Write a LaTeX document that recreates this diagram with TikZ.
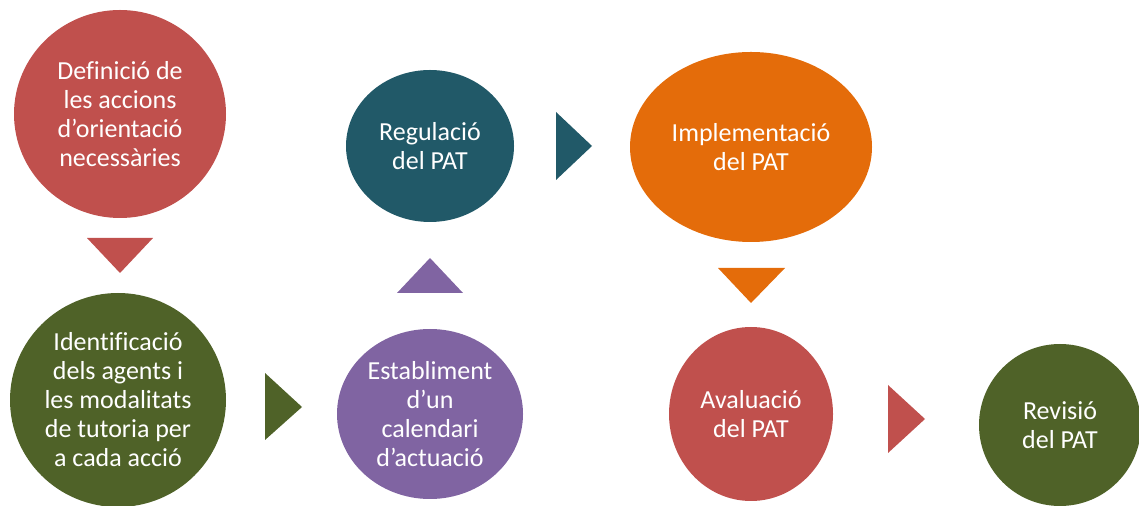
\documentclass[tikz,border=0pt]{standalone}
\usepackage{fontspec}
\setmainfont{Carlito}[Ligatures=CommonOff]
\usetikzlibrary{shapes.geometric}
\definecolor{pinkred}{HTML}{C0504D}
\definecolor{olive}{HTML}{4F6228}
\definecolor{lilac}{HTML}{8064A2}
\definecolor{petrol}{HTML}{215968}
\definecolor{carrot}{HTML}{E46C0A}
\begin{document}
\begin{tikzpicture}
    [%%%%%%%%%%%%%%%%%%%%%%%%%%%%%%
        x=0.5pt, y=-0.5pt,
        stage/.style={ellipse, inner sep=0pt, text=white, align=center,
                      font=\fontsize{13}{14.5}\selectfont},
    ]%%%%%%%%%%%%%%%%%%%%%%%%%%%%%%
\useasboundingbox (0,0) rectangle (1139,506);
\node[stage, fill=pinkred, minimum width=106pt, minimum height=104pt] (defin) at (120,114) {Definició de\\les accions\\d’orientació\\necessàries};
\node[stage, fill=olive, minimum width=108pt, minimum height=107pt] (ident) at (118,400) {Identificació\\dels agents i\\les modalitats\\de tutoria per\\a cada acció};
\node[stage, fill=lilac, minimum width=93pt, minimum height=85pt] (estab) at (430,414) {Establiment\\d’un\\calendari\\d’actuació};
\node[stage, fill=petrol, minimum width=84pt, minimum height=76pt] (regul) at (430,146) {Regulació\\del PAT};
\node[stage, fill=carrot, minimum width=121pt, minimum height=95pt] (implem) at (751,147) {Implementació\\del PAT};
\node[stage, fill=pinkred, minimum width=82pt, minimum height=87pt] (aval) at (751,414) {Avaluació\\del PAT};
\node[stage, fill=olive, minimum width=81pt, minimum height=81pt] (revis) at (1060,425) {Revisió\\del PAT};
\fill[pinkred] (87,238) -- (153,238) -- (120,273) -- cycle;
\fill[olive] (265,373) -- (302,407) -- (265,440) -- cycle;
\fill[lilac] (397,293) -- (463,293) -- (430,258) -- cycle;
\fill[petrol] (556,112) -- (592,146) -- (556,180) -- cycle;
\fill[carrot] (718,268) -- (785,268) -- (751,303) -- cycle;
\fill[pinkred] (888,385) -- (925,419) -- (888,453) -- cycle;
\end{tikzpicture}
\end{document}
